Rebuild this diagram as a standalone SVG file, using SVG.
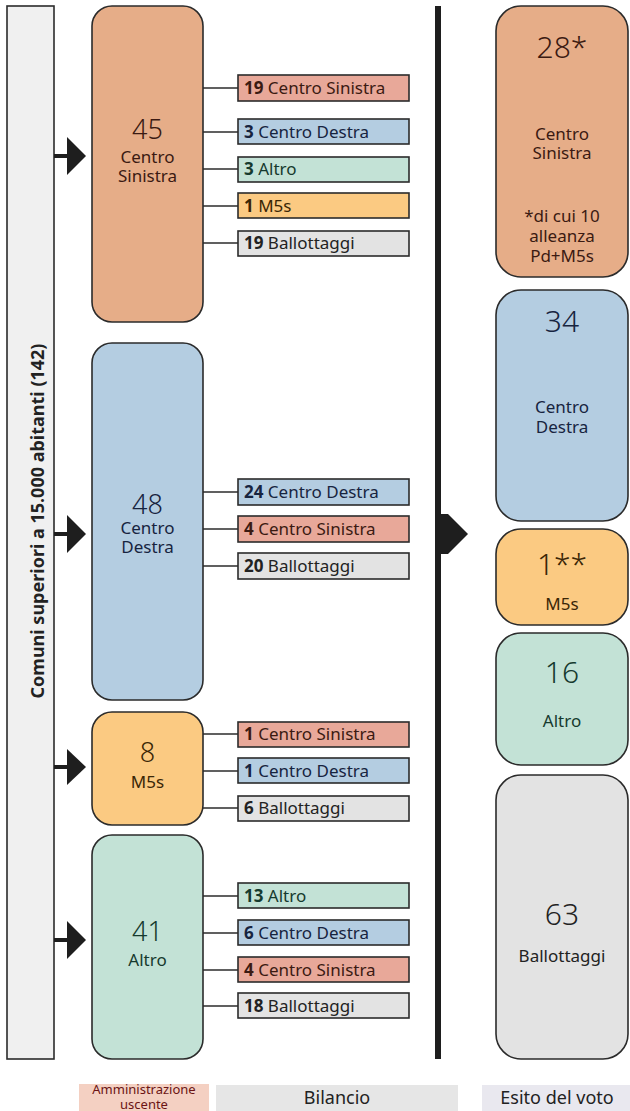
<svg xmlns="http://www.w3.org/2000/svg" width="630" height="1111" viewBox="0 0 630 1111">
<style>
text{font-family:"Noto Sans","Open Sans",sans-serif;}
.node{stroke:#2b2b2b;stroke-width:1.6;}
.br{stroke:#2b2b2b;stroke-width:1.6;}
.cs{fill:#e6ad88;}
.csb{fill:#e8a899;}
.cd{fill:#b4cde1;}
.al{fill:#c3e2d6;}
.m5{fill:#fbca82;}
.ba{fill:#e3e3e3;}
.big{font-size:27px;font-weight:300;text-anchor:middle;}
.bigr{font-size:30px;font-weight:300;text-anchor:middle;}
.lbl{font-size:17px;text-anchor:middle;}
.bt{font-size:17px;}
.bt tspan.n{font-weight:700;}
.tcs{fill:#3b1a12;}
.tcd{fill:#17243f;}
.tal{fill:#163a2e;}
.tm5{fill:#3a2606;}
.tba{fill:#222;}
.conn line{stroke:#2b2b2b;stroke-width:1.6;}
.arr{fill:#1e1e1e;}
</style>

<!-- left bar -->
<g id="title-bar">
<rect x="7" y="6" width="47" height="1053" fill="#f0f0f0" stroke="#2b2b2b" stroke-width="1.6"/>
<text transform="translate(44,521) rotate(-90)" text-anchor="middle" font-size="18" font-weight="700" fill="#222">Comuni superiori a 15.000 abitanti (142)</text>
</g>

<!-- connectors -->
<g id="connectors" class="conn">
<line x1="203" y1="88" x2="238" y2="88"/>
<line x1="203" y1="132" x2="238" y2="132"/>
<line x1="203" y1="169" x2="238" y2="169"/>
<line x1="203" y1="206" x2="238" y2="206"/>
<line x1="203" y1="243" x2="238" y2="243"/>
<line x1="203" y1="492" x2="238" y2="492"/>
<line x1="203" y1="529" x2="238" y2="529"/>
<line x1="203" y1="566" x2="238" y2="566"/>
<line x1="203" y1="734" x2="238" y2="734"/>
<line x1="203" y1="771" x2="238" y2="771"/>
<line x1="203" y1="808" x2="238" y2="808"/>
<line x1="203" y1="896" x2="238" y2="896"/>
<line x1="203" y1="933" x2="238" y2="933"/>
<line x1="203" y1="970" x2="238" y2="970"/>
<line x1="203" y1="1006" x2="238" y2="1006"/>
<!-- arrows from left bar -->
<rect class="arr" x="54" y="154" width="14" height="4"/>
<polygon class="arr" points="67,137 86,156 67,175"/>
<rect class="arr" x="54" y="532" width="14" height="4"/>
<polygon class="arr" points="67,515 86,534 67,553"/>
<rect class="arr" x="54" y="765" width="14" height="4"/>
<polygon class="arr" points="67,749 86,767 67,785"/>
<rect class="arr" x="54" y="938" width="14" height="4"/>
<polygon class="arr" points="67,921 86,940 67,959"/>
<!-- central bar and arrow -->
<rect class="arr" x="435" y="6" width="6" height="1053"/>
<polygon class="arr" points="441,514 448,514 448,514 468,534 448,554 441,554"/>
</g>

<!-- left nodes -->
<g id="node-cs-uscente">
<rect class="node cs" x="92" y="6" width="111" height="316" rx="20"/>
<text class="big tcs" x="147.5" y="139">45</text>
<text class="lbl tcs" x="147.5" y="163">Centro</text>
<text class="lbl tcs" x="147.5" y="182">Sinistra</text>
</g>
<g id="node-cd-uscente">
<rect class="node cd" x="92" y="343" width="111" height="357" rx="20"/>
<text class="big tcd" x="147.5" y="514">48</text>
<text class="lbl tcd" x="147.5" y="534">Centro</text>
<text class="lbl tcd" x="147.5" y="553">Destra</text>
</g>
<g id="node-m5s-uscente">
<rect class="node m5" x="92" y="712" width="111" height="113" rx="20"/>
<text class="big tm5" x="147.5" y="762">8</text>
<text class="lbl tm5" x="147.5" y="788">M5s</text>
</g>
<g id="node-altro-uscente">
<rect class="node al" x="92" y="835" width="111" height="224" rx="20"/>
<text class="big tal" x="147.5" y="941">41</text>
<text class="lbl tal" x="147.5" y="966">Altro</text>
</g>

<!-- branch boxes -->
<g id="b-cs-cs"><rect class="br csb" x="238" y="75" width="171" height="26"/><text class="bt tcs" x="244" y="94"><tspan class="n">19</tspan> Centro Sinistra</text></g>
<g id="b-cs-cd"><rect class="br cd" x="238" y="119" width="171" height="25"/><text class="bt tcd" x="244" y="138"><tspan class="n">3</tspan> Centro Destra</text></g>
<g id="b-cs-al"><rect class="br al" x="238" y="157" width="171" height="25"/><text class="bt tal" x="244" y="175"><tspan class="n">3</tspan> Altro</text></g>
<g id="b-cs-m5"><rect class="br m5" x="238" y="193" width="171" height="25"/><text class="bt tm5" x="244" y="212"><tspan class="n">1</tspan> M5s</text></g>
<g id="b-cs-ba"><rect class="br ba" x="238" y="231" width="171" height="25"/><text class="bt tba" x="244" y="249"><tspan class="n">19</tspan> Ballottaggi</text></g>

<g id="b-cd-cd"><rect class="br cd" x="238" y="479" width="171" height="26"/><text class="bt tcd" x="244" y="498"><tspan class="n">24</tspan> Centro Destra</text></g>
<g id="b-cd-cs"><rect class="br csb" x="238" y="516" width="171" height="26"/><text class="bt tcs" x="244" y="535"><tspan class="n">4</tspan> Centro Sinistra</text></g>
<g id="b-cd-ba"><rect class="br ba" x="238" y="553" width="171" height="26"/><text class="bt tba" x="244" y="572"><tspan class="n">20</tspan> Ballottaggi</text></g>

<g id="b-m5-cs"><rect class="br csb" x="238" y="722" width="171" height="25"/><text class="bt tcs" x="244" y="740"><tspan class="n">1</tspan> Centro Sinistra</text></g>
<g id="b-m5-cd"><rect class="br cd" x="238" y="758" width="171" height="25"/><text class="bt tcd" x="244" y="777"><tspan class="n">1</tspan> Centro Destra</text></g>
<g id="b-m5-ba"><rect class="br ba" x="238" y="796" width="171" height="25"/><text class="bt tba" x="244" y="814"><tspan class="n">6</tspan> Ballottaggi</text></g>

<g id="b-al-al"><rect class="br al" x="238" y="883" width="171" height="25"/><text class="bt tal" x="244" y="902"><tspan class="n">13</tspan> Altro</text></g>
<g id="b-al-cd"><rect class="br cd" x="238" y="920" width="171" height="25"/><text class="bt tcd" x="244" y="939"><tspan class="n">6</tspan> Centro Destra</text></g>
<g id="b-al-cs"><rect class="br csb" x="238" y="957" width="171" height="25"/><text class="bt tcs" x="244" y="976"><tspan class="n">4</tspan> Centro Sinistra</text></g>
<g id="b-al-ba"><rect class="br ba" x="238" y="993" width="171" height="25"/><text class="bt tba" x="244" y="1012"><tspan class="n">18</tspan> Ballottaggi</text></g>

<!-- right nodes -->
<g id="esito-cs">
<rect class="node cs" x="496" y="6" width="132" height="271" rx="25"/>
<text class="bigr tcs" x="562" y="58">28*</text>
<text class="lbl tcs" x="562" y="140">Centro</text>
<text class="lbl tcs" x="562" y="159">Sinistra</text>
<text class="lbl tcs" x="562" y="222">*di cui 10</text>
<text class="lbl tcs" x="562" y="242">alleanza</text>
<text class="lbl tcs" x="562" y="262">Pd+M5s</text>
</g>
<g id="esito-cd">
<rect class="node cd" x="496" y="290" width="132" height="231" rx="25"/>
<text class="bigr tcd" x="562" y="332">34</text>
<text class="lbl tcd" x="562" y="413">Centro</text>
<text class="lbl tcd" x="562" y="433">Destra</text>
</g>
<g id="esito-m5s">
<rect class="node m5" x="496" y="529" width="132" height="96" rx="25"/>
<text class="bigr tm5" x="562" y="575">1**</text>
<text class="lbl tm5" x="562" y="610">M5s</text>
</g>
<g id="esito-altro">
<rect class="node al" x="496" y="633" width="132" height="132" rx="25"/>
<text class="bigr tal" x="562" y="683">16</text>
<text class="lbl tal" x="562" y="727">Altro</text>
</g>
<g id="esito-ba">
<rect class="node ba" x="496" y="775" width="132" height="284" rx="25"/>
<text class="bigr tba" x="562" y="925">63</text>
<text class="lbl tba" x="562" y="962">Ballottaggi</text>
</g>

<!-- bottom legend -->
<g id="legend-amm">
<rect x="79" y="1084" width="130" height="27" fill="#f4d0c2"/>
<text x="144" y="1094" font-size="13" text-anchor="middle" fill="#6b1414">Amministrazione</text>
<text x="144" y="1109" font-size="13" text-anchor="middle" fill="#6b1414">uscente</text>
</g>
<g id="legend-bil">
<rect x="216" y="1085" width="242" height="26" fill="#e6e6e6"/>
<text x="337" y="1104" font-size="18" text-anchor="middle" fill="#222">Bilancio</text>
</g>
<g id="legend-esito">
<rect x="482" y="1085" width="148" height="26" fill="#e9e8ef"/>
<text x="557" y="1104" font-size="18" text-anchor="middle" fill="#222">Esito del voto</text>
</g>
</svg>
